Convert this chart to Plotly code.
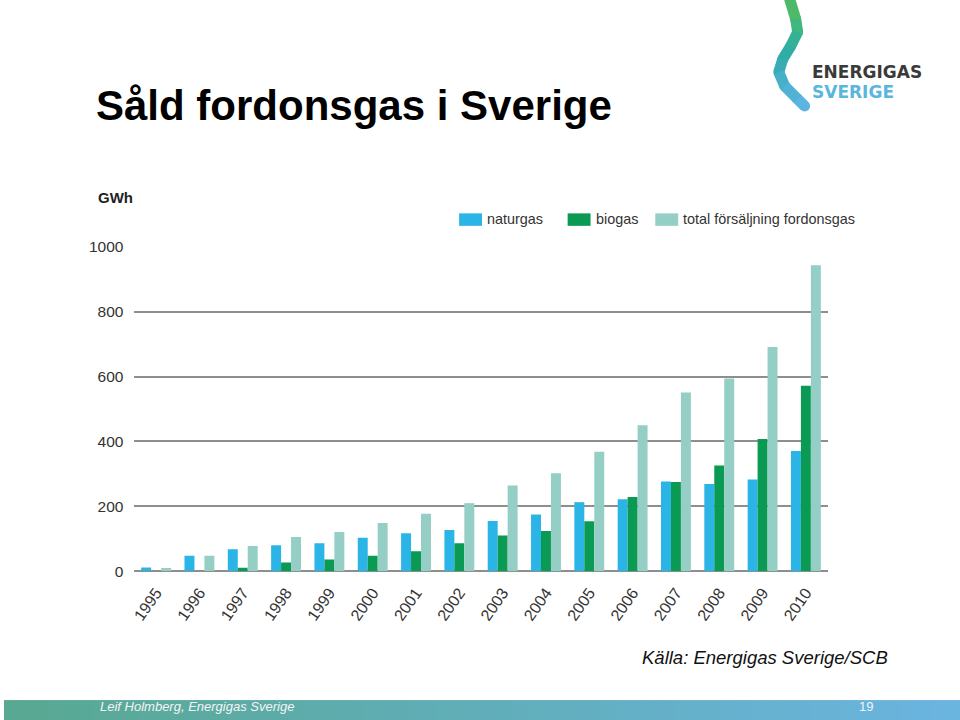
import plotly.graph_objects as go

W, H = 960, 720

years = ["1995", "1996", "1997", "1998", "1999", "2000", "2001", "2002",
         "2003", "2004", "2005", "2006", "2007", "2008", "2009", "2010"]
naturgas = [12, 48, 68, 80, 86, 103, 117, 127, 155, 175, 213, 222, 277, 269, 283, 371]
biogas = [0, 0, 11, 27, 36, 48, 62, 86, 110, 124, 154, 229, 275, 326, 408, 572]
total = [10, 48, 78, 106, 121, 149, 177, 210, 264, 302, 368, 450, 551, 594, 691, 943]
y_ticks = [0, 200, 400, 600, 800, 1000]

series_names = ["naturgas", "biogas", "total försäljning fordonsgas"]
series_colors = ["#2BB5E6", "#0B9A54", "#95CEC4"]

FONT = "Liberation Sans, Arial, Helvetica, sans-serif"

# vertical placement helper (screen y -> page y, compensating the capture)
SY, OY = 0.978, 7.8


def px(x):
    return x / W


def py(y):
    return 1 - ((y - OY) / SY) / H


fig = go.Figure()
for name, vals, col in zip(series_names, [naturgas, biogas, total], series_colors):
    fig.add_trace(go.Bar(x=years, y=vals, name=name, showlegend=False,
                         marker=dict(color=col, line=dict(width=0))))

shapes = []
annotations = []

# footer gradient bar
n = 64
c0 = (88, 168, 146)
c1 = (106, 180, 224)
for i in range(n):
    t = i / (n - 1)
    c = tuple(int(round(a + (b - a) * t)) for a, b in zip(c0, c1))
    shapes.append(dict(type="rect", xref="paper", yref="paper",
                       x0=px(W * i / n), x1=px(min(W, W * (i + 1) / n + 1)),
                       y0=py(730), y1=py(700),
                       fillcolor="rgb(%d,%d,%d)" % c, line=dict(width=0), layer="below"))

# logo ribbon (decorative), centreline points and colours
rib_pts = [(786, -12), (795, 18), (797, 31), (790, 45), (782, 58), (778, 71),
           (784, 85), (797, 98), (804, 105)]
rib_cols = [(78, 186, 104), (64, 183, 128), (52, 178, 150), (48, 174, 166),
            (55, 172, 182), (70, 176, 200), (82, 178, 214), (92, 180, 226)]
for (xa, ya), (xb, yb), c in zip(rib_pts[:-1], rib_pts[1:], rib_cols):
    shapes.append(dict(type="path", xref="paper", yref="paper",
                       path="M %f,%f L %f,%f" % (px(xa), py(ya), px(xb), py(yb)),
                       line=dict(color="rgb(%d,%d,%d)" % c, width=11), layer="above"))
    shapes.append(dict(type="circle", xref="paper", yref="paper",
                       x0=px(xb - 5.5), x1=px(xb + 5.5), y0=py(yb + 5.4), y1=py(yb - 5.4),
                       fillcolor="rgb(%d,%d,%d)" % c, line=dict(width=0), layer="above"))

# manual legend (wide swatches like the reference)
leg_swatch_x = [457, 566, 654]
for name, col, x0 in zip(series_names, series_colors, leg_swatch_x):
    shapes.append(dict(type="rect", xref="paper", yref="paper",
                       x0=px(x0), x1=px(x0 + 23), y0=py(225), y1=py(212.5),
                       fillcolor=col, line=dict(width=0)))
    annotations.append(dict(text=name, x=px(x0 + 26), y=py(218.5), xref="paper", yref="paper",
                            xanchor="left", yanchor="middle", showarrow=False,
                            font=dict(family=FONT, size=14.4, color="#333333")))

annotations += [
    dict(text="<b>Såld fordonsgas i Sverige</b>", x=px(90), y=py(104.5), xref="paper", yref="paper",
         xanchor="left", yanchor="middle", showarrow=False,
         font=dict(family=FONT, size=42, color="#000000")),
    dict(text="<b>GWh</b>", x=px(92), y=py(196.5), xref="paper", yref="paper",
         xanchor="left", yanchor="middle", showarrow=False,
         font=dict(family=FONT, size=15, color="#222222")),
    dict(text="<i>Källa: Energigas Sverige/SCB</i>", x=px(890), y=py(657.5), xref="paper", yref="paper",
         xanchor="right", yanchor="middle", showarrow=False,
         font=dict(family=FONT, size=18.5, color="#111111")),
    dict(text="<i>Leif Holmberg, Energigas Sverige</i>", x=px(94), y=py(706), xref="paper", yref="paper",
         xanchor="left", yanchor="middle", showarrow=False,
         font=dict(family=FONT, size=13, color="#F4F4F4")),
    dict(text="19", x=px(866), y=py(706), xref="paper", yref="paper",
         xanchor="center", yanchor="middle", showarrow=False,
         font=dict(family=FONT, size=13, color="#F4F4F4")),
    dict(text="<b>ENERGIGAS</b>", x=px(810), y=py(70.5), xref="paper", yref="paper",
         xanchor="left", yanchor="middle", showarrow=False, borderpad=0,
         font=dict(family="DejaVu Sans, sans-serif", size=17, color="#3a3a3a")),
    dict(text="<b>SVERIGE</b>", x=px(810), y=py(90.5), xref="paper", yref="paper",
         xanchor="left", yanchor="middle", showarrow=False, borderpad=0,
         font=dict(family="DejaVu Sans, sans-serif", size=17, color="#5BB6DE")),
]

fig.update_layout(
    width=W, height=H,
    margin=dict(l=0, r=0, t=0, b=0),
    paper_bgcolor="white", plot_bgcolor="white",
    barmode="group", bargap=0.31, bargroupgap=0,
    font=dict(family=FONT, color="#333333"),
    showlegend=False,
    xaxis=dict(domain=[px(131), px(827)], type="category",
               range=[-0.5, len(years) - 0.5],
               tickangle=-55, tickfont=dict(family=FONT, size=16, color="#333333"),
               showgrid=False, showline=False, ticks="", zeroline=False,
               ticklabelstandoff=8),
    yaxis=dict(domain=[py(571), py(246)], range=[0, 1000],
               tickvals=y_ticks, ticktext=[str(v) for v in y_ticks],
               tickfont=dict(family=FONT, size=15.5, color="#333333"),
               showgrid=True, gridcolor="#8E8E8E", gridwidth=1.5,
               zeroline=True, zerolinecolor="#8E8E8E", zerolinewidth=1.5,
               showline=False, ticks="", ticklabelstandoff=10),
    shapes=shapes,
    annotations=annotations,
)

fig.write_html("out.html")
